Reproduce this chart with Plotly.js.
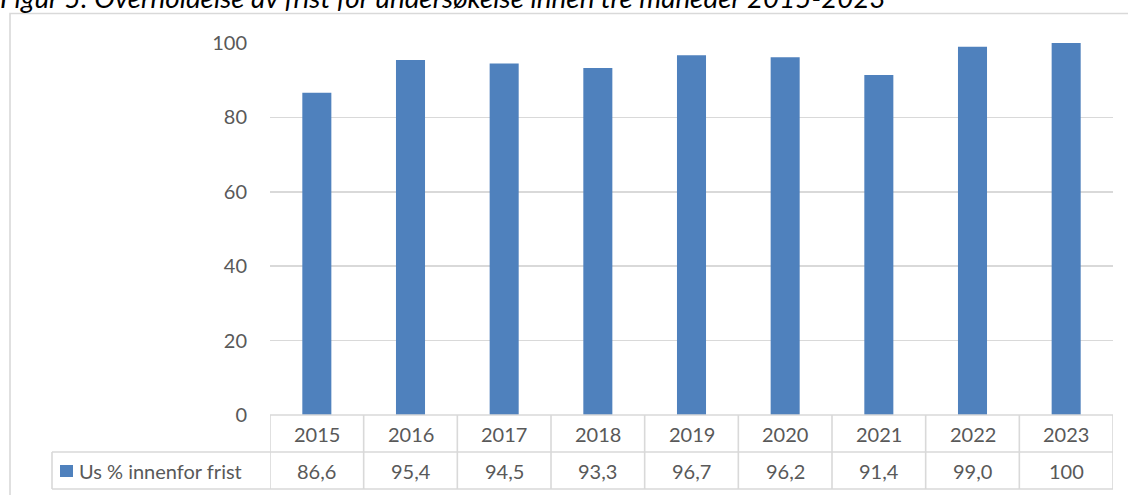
<!DOCTYPE html>
<html>
<head>
<meta charset="utf-8">
<script src="https://cdn.plot.ly/plotly-3.0.1.min.js"></script>
<style>html,body{margin:0;padding:0;background:#fff;}#chart{width:1128px;height:495px;}</style>
</head>
<body>
<div id="chart"></div>
<script>
var titleText = "Figur 5: Overholdelse av frist for undersøkelse innen tre måneder 2015-2023";
var years = ["2015","2016","2017","2018","2019","2020","2021","2022","2023"];
var values = [86.6, 95.4, 94.5, 93.3, 96.7, 96.2, 91.4, 99.0, 100];
var valueLabels = ["86,6","95,4","94,5","93,3","96,7","96,2","91,4","99,0","100"];
var seriesName = "Us % innenfor frist";
var yTicks = [0, 20, 40, 60, 80, 100];

var W = 1128, H = 495;
var mL = 270, mR = 15, mT = 43, mB = 80;
var pw = W - mL - mR, ph = H - mT - mB;
function px(x){ return (x - mL) / pw; }
function py(y){ return (H - mB - y) / ph; }

var FONT = "Lato, 'Open Sans', sans-serif";
var TXT = "#595959";
var GRID = "#d9d9d9";
var BLUE = "#4f81bd";

var shapes = [];
var annotations = [];
function line(xref, x0, y0, x1, y1){
  shapes.push({type:'line', xref:xref, yref:'paper', x0:x0, x1:x1, y0:y0, y1:y1,
    line:{color:GRID, width:1.6}, layer:'above'});
}
var yTop = py(415), yMid = py(452), yBot = py(489);
// outer chart border
shapes.push({type:'rect', xref:'paper', yref:'paper', x0:px(10), x1:px(1150), y0:py(13.5), y1:py(520),
  line:{color:GRID, width:1.6}, fillcolor:'rgba(0,0,0,0)', layer:'below'});
// table horizontal lines
line('paper', 0, yTop, 1, yTop);
line('paper', px(52), yMid, 1, yMid);
line('paper', px(52), yBot, 1, yBot);
// left border of legend cell
line('paper', px(52), yMid, px(52), yBot);
// category boundaries
for (var i = 0; i <= years.length; i++) {
  line('x', i - 0.5, yTop, i - 0.5, yBot);
}
// legend square
shapes.push({type:'rect', xref:'paper', yref:'paper', x0:px(60), x1:px(73), y0:py(465), y1:py(477),
  line:{width:0}, fillcolor:BLUE, layer:'above'});
annotations.push({xref:'paper', yref:'paper', x:px(77), y:(yMid+yBot)/2, xanchor:'left', yanchor:'middle',
  text:seriesName, showarrow:false, font:{family:FONT, size:20, color:TXT}});
for (var j = 0; j < years.length; j++) {
  annotations.push({xref:'x', yref:'paper', x:j, y:(yTop+yMid)/2, xanchor:'center', yanchor:'middle',
    text:years[j], showarrow:false, font:{family:FONT, size:20, color:TXT}});
  annotations.push({xref:'x', yref:'paper', x:j, y:(yMid+yBot)/2, xanchor:'center', yanchor:'middle',
    text:valueLabels[j], showarrow:false, font:{family:FONT, size:20, color:TXT}});
}

var data = [{
  type:'bar', x:years, y:values, name:seriesName,
  marker:{color:BLUE}, width:0.31, hoverinfo:'x+y'
}];

var layout = {
  width:W, height:H,
  margin:{l:mL, r:mR, t:mT, b:mB, pad:0},
  paper_bgcolor:'#fff', plot_bgcolor:'#fff',
  showlegend:false,
  title:{text:titleText, x:0, xref:'container', xanchor:'left', y:1 - 8/H, yref:'container', yanchor:'bottom',
    font:{family:FONT, size:27.8, color:'#000', style:'italic'}},
  xaxis:{type:'category', showticklabels:false, showgrid:false, zeroline:false, showline:false, ticks:'',
    range:[-0.5, years.length - 0.5], fixedrange:true},
  yaxis:{range:[0,100], tickvals:yTicks, ticktext:yTicks.map(String), showgrid:true, gridcolor:GRID, gridwidth:1.6,
    zeroline:false, showline:false, ticks:'', ticklabelstandoff:22,
    tickfont:{family:FONT, size:20, color:TXT}, fixedrange:true},
  shapes:shapes,
  annotations:annotations,
  bargap:0.69
};
Plotly.newPlot('chart', data, layout, {displayModeBar:false, staticPlot:true});
</script>
</body>
</html>
